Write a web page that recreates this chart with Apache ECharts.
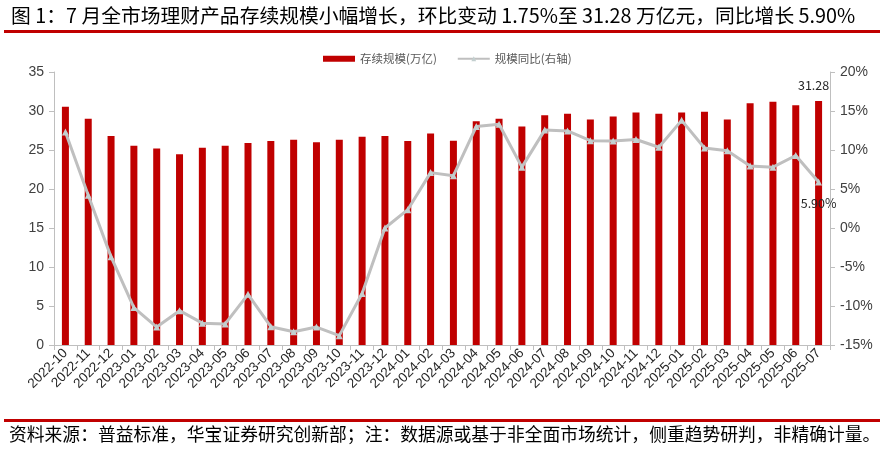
<!DOCTYPE html>
<html>
<head>
<meta charset="utf-8">
<script src="https://cdn.jsdelivr.net/npm/echarts@6/dist/echarts.min.js"></script>
<style>
html,body{margin:0;padding:0;background:#fff;}
#main{width:883px;height:452px;}
</style>
</head>
<body>
<div id="main"></div>
<script>
var categories = ['2022-10','2022-11','2022-12','2023-01','2023-02','2023-03','2023-04','2023-05','2023-06','2023-07','2023-08','2023-09','2023-10','2023-11','2023-12','2024-01','2024-02','2024-03','2024-04','2024-05','2024-06','2024-07','2024-08','2024-09','2024-10','2024-11','2024-12','2025-01','2025-02','2025-03','2025-04','2025-05','2025-06','2025-07'];
var scaleValues = [30.55,29.0,26.8,25.55,25.2,24.45,25.3,25.55,25.9,26.15,26.3,26.0,26.3,26.7,26.8,26.15,27.1,26.2,28.7,29.0,28.0,29.45,29.65,28.9,29.3,29.8,29.65,29.8,29.9,28.9,31.0,31.2,30.74,31.28];
var yoyValues = [12.3,4.2,-3.7,-10.2,-12.7,-10.6,-12.2,-12.3,-8.5,-12.65,-13.3,-12.7,-13.8,-8.4,0.0,2.35,7.1,6.7,13.0,13.3,7.8,12.55,12.45,11.2,11.15,11.35,10.35,13.8,10.25,9.9,7.95,7.8,9.3,5.90];
var leftTicks = {min:0, max:35, interval:5};
var rightTicks = {min:-15, max:20, interval:5};
var titleText = '图 1：7 月全市场理财产品存续规模小幅增长，环比变动 1.75%至 31.28 万亿元，同比增长 5.90%';
var sourceText = '资料来源：普益标准，华宝证券研究创新部；注：数据源或基于非全面市场统计，侧重趋势研判，非精确计量。';

var chart = echarts.init(document.getElementById('main'), null, {renderer:'canvas'});
var last = categories.length - 1;
var cjk = '"Noto Sans CJK SC", sans-serif';
var lat = '"Liberation Sans", Arial, sans-serif';
chart.setOption({
  animation:false,
  backgroundColor:'#fff',
  title:{
    text:titleText, left:6, top:1,
    textStyle:{fontFamily:cjk, fontSize:19.8, fontWeight:'normal', color:'#000'}
  },
  graphic:[
    {type:'rect', shape:{x:4, y:30, width:876, height:3}, style:{fill:'#C00000'}},
    {type:'rect', shape:{x:4, y:419, width:876, height:3}, style:{fill:'#C00000'}},
    {type:'text', left:9, top:425, style:{text:sourceText, font:'17.8px "Noto Sans CJK SC", sans-serif', fill:'#000'}}
  ],
  legend:{
    left:318, top:48, itemGap:20, itemWidth:32, itemHeight:6,
    textStyle:{fontFamily:cjk, fontSize:11.5, color:'#595959'},
    data:[{name:'存续规模(万亿)', icon:'rect'}, {name:'规模同比(右轴)'}]
  },
  grid:{left:54, right:53, top:72, bottom:107, containLabel:false},
  xAxis:{
    type:'category', data:categories, boundaryGap:true,
    axisLine:{lineStyle:{color:'#BFBFBF', width:1}},
    axisTick:{show:true, lineStyle:{color:'#BFBFBF'}},
    axisLabel:{interval:0, rotate:45, fontFamily:lat, fontSize:13.5, color:'#262626', margin:6}
  },
  yAxis:[
    {type:'value', min:leftTicks.min, max:leftTicks.max, interval:leftTicks.interval,
     splitLine:{show:false},
     axisLine:{show:true, lineStyle:{color:'#BFBFBF'}},
     axisTick:{show:true, lineStyle:{color:'#BFBFBF'}},
     axisLabel:{fontFamily:lat, fontSize:14, color:'#404040', margin:10}},
    {type:'value', min:rightTicks.min, max:rightTicks.max, interval:rightTicks.interval,
     splitLine:{show:false},
     axisLine:{show:true, lineStyle:{color:'#BFBFBF'}},
     axisTick:{show:true, lineStyle:{color:'#BFBFBF'}},
     axisLabel:{fontFamily:lat, fontSize:14, color:'#404040', margin:10, formatter:'{value}%'}}
  ],
  series:[
    {name:'存续规模(万亿)', type:'bar', data:scaleValues, barWidth:7,
     itemStyle:{color:'#C00000'},
     label:{show:true, position:'top', distance:10, offset:[-5,0], fontFamily:cjk, fontSize:12.5, color:'#262626',
       formatter:function(p){return p.dataIndex===last ? p.value.toFixed(2) : '';}}},
    {name:'规模同比(右轴)', type:'line', yAxisIndex:1, data:yoyValues,
     symbol:'triangle', symbolSize:7, showSymbol:true,
     lineStyle:{color:'#BFBFBF', width:3},
     itemStyle:{color:'#C3CFCF'},
     label:{show:true, position:'bottom', distance:12, fontFamily:cjk, fontSize:12.5, color:'#262626',
       formatter:function(p){return p.dataIndex===last ? p.value.toFixed(2)+'%' : '';}}}
  ]
});
</script>
</body>
</html>
